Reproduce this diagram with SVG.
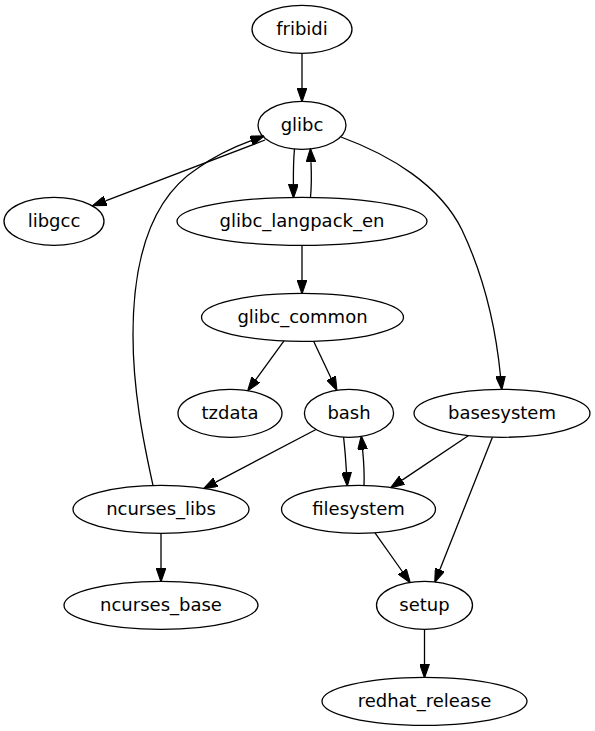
<svg xmlns="http://www.w3.org/2000/svg" width="595" height="731" viewBox="0 0 595 731">
<style>
.n ellipse{fill:none;stroke:#000;stroke-width:1.3}
.n text{font-family:"DejaVu Sans",sans-serif;font-size:18px;text-anchor:middle;fill:#000}
.e path{fill:none;stroke:#000;stroke-width:1.3;marker-end:url(#ah)}
</style>
<defs>
<marker id="ah" markerUnits="userSpaceOnUse" markerWidth="14" markerHeight="10" viewBox="0 0 13.33 9.33" refX="0" refY="4.67" orient="auto">
<path d="M0,0 L13.33,4.67 L0,9.33 z" fill="#000" stroke="#000" stroke-width="1"/>
</marker>
</defs>
<rect width="595" height="731" fill="#fff"/>
<g class="e" id="edges">
<path d="M302,53.3 L302,88"/>
<path d="M265,140 L105.5,200.8"/>
<path d="M153,485.4 C143,440 133,390 133,335 C133,250 156,195 198,168 C215,156 234,147 251.2,140.7"/>
<path d="M294.5,148.8 C293.6,158 293.3,170 293.4,184.2"/>
<path d="M310.5,197.3 C311.4,188 311.6,176 311,162.3"/>
<path d="M341,137 C390,155 440,185 462,230 C488,285 497,340 500.5,376"/>
<path d="M302,245.3 L302,280"/>
<path d="M284,340.9 L255.8,379.7"/>
<path d="M313.6,341.2 L331,378"/>
<path d="M316,429.5 L215.8,482.2"/>
<path d="M343.6,437.1 C344.6,446 345.8,460 346.5,472.3"/>
<path d="M364,485.4 C364.4,476 363.8,462 362.6,449.6"/>
<path d="M468.6,435.5 L402.1,480.1"/>
<path d="M492.4,437.2 L439.9,569.5"/>
<path d="M375,532.8 L402.3,571.5"/>
<path d="M161,533.3 L161,568"/>
<path d="M424.5,629.3 L424.5,664"/>
</g>
<g class="n" id="fribidi"><ellipse cx="302" cy="29.3" rx="50" ry="24"/><text x="302" y="35.3">fribidi</text></g>
<g class="n" id="glibc"><ellipse cx="302" cy="125.3" rx="44" ry="24"/><text x="302" y="131.3">glibc</text></g>
<g class="n" id="libgcc"><ellipse cx="54" cy="221.3" rx="50" ry="24"/><text x="54" y="227.3">libgcc</text></g>
<g class="n" id="glibc_langpack_en"><ellipse cx="302" cy="221.3" rx="125" ry="24"/><text x="302" y="227.3">glibc_langpack_en</text></g>
<g class="n" id="glibc_common"><ellipse cx="302.5" cy="317.3" rx="101" ry="24"/><text x="302.5" y="323.3">glibc_common</text></g>
<g class="n" id="tzdata"><ellipse cx="230" cy="413.3" rx="52" ry="24"/><text x="230" y="419.3">tzdata</text></g>
<g class="n" id="bash"><ellipse cx="349" cy="413.3" rx="44.6" ry="24"/><text x="349" y="419.3">bash</text></g>
<g class="n" id="basesystem"><ellipse cx="502" cy="413.3" rx="88" ry="24"/><text x="502" y="419.3">basesystem</text></g>
<g class="n" id="ncurses_libs"><ellipse cx="161" cy="509.3" rx="88" ry="24"/><text x="161" y="515.3">ncurses_libs</text></g>
<g class="n" id="filesystem"><ellipse cx="358.5" cy="509.3" rx="77" ry="24"/><text x="358.5" y="515.3">filesystem</text></g>
<g class="n" id="ncurses_base"><ellipse cx="161" cy="605.3" rx="97" ry="24"/><text x="161" y="611.3">ncurses_base</text></g>
<g class="n" id="setup"><ellipse cx="424.5" cy="605.3" rx="48" ry="24"/><text x="424.5" y="611.3">setup</text></g>
<g class="n" id="redhat_release"><ellipse cx="424.5" cy="701.3" rx="102.5" ry="24"/><text x="424.5" y="707.3">redhat_release</text></g>
</svg>
